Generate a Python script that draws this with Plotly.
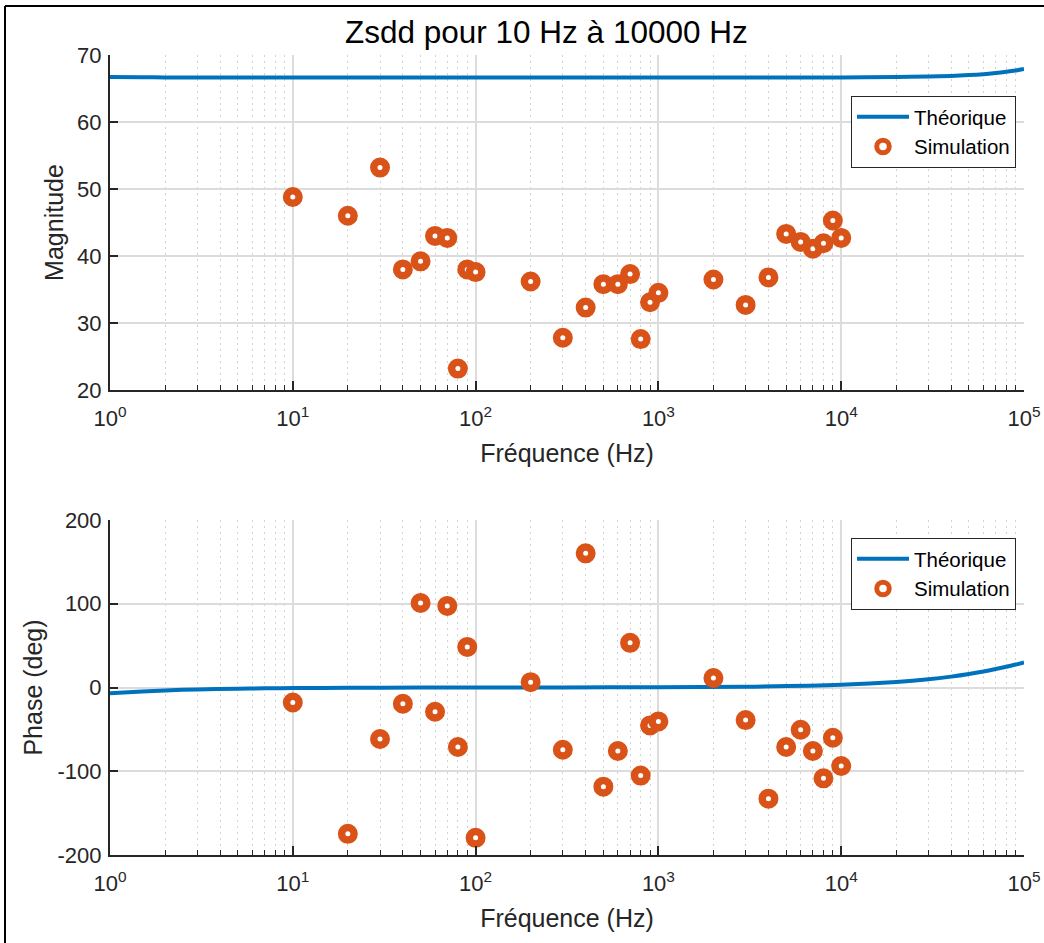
import plotly.graph_objects as go

# ---------------- data ----------------
sim_freq = [10, 20, 30, 40, 50, 60, 70, 80, 90, 100,
            200, 300, 400, 500, 600, 700, 800, 900, 1000,
            2000, 3000, 4000, 5000, 6000, 7000, 8000, 9000, 10000]
sim_mag = [48.8, 46.0, 53.2, 38.0, 39.2, 43.0, 42.7, 23.2, 38.0, 37.6,
           36.2, 27.8, 32.3, 35.8, 35.8, 37.3, 27.6, 33.1, 34.5,
           36.5, 32.7, 36.8, 43.3, 42.1, 41.1, 41.9, 45.3, 42.7]
sim_phase = [-17.9, -174.7, -61.5, -19.4, 100.9, -29.0, 97.4, -71.0, 48.5, -179.5,
             6.4, -74.3, 160.2, -118.4, -75.8, 53.3, -105.2, -45.3, -40.5,
             11.2, -38.9, -132.7, -71.0, -50.4, -75.8, -108.5, -60.0, -93.7]

theo_freq = [1, 1.5, 2, 3, 5, 7, 10, 20, 50, 100, 300, 1000, 3000, 10000,
             20000, 30000, 40000, 50000, 60000, 70000, 80000, 90000, 100000]
theo_mag = [66.72, 66.68, 66.66, 66.65, 66.65, 66.65, 66.65, 66.65, 66.65, 66.65,
            66.65, 66.65, 66.65, 66.66, 66.71, 66.78, 66.88, 67.0, 67.14,
            67.31, 67.49, 67.68, 67.9]
theo_phase = [-7.0, -4.7, -3.5, -2.3, -1.4, -1.0, -0.7, -0.35, -0.1, 0.0, 0.1,
              0.3, 1.0, 3.3, 6.6, 9.8, 13.0, 16.1, 19.1, 22.0, 24.7, 27.4, 30.0]

x_tickvals = [1, 10, 100, 1000, 10000, 100000]
x_ticktext = ["10<sup>0</sup>", "10<sup>1</sup>", "10<sup>2</sup>",
              "10<sup>3</sup>", "10<sup>4</sup>", "10<sup>5</sup>"]
mag_ticks = [20, 30, 40, 50, 60, 70]
mag_ticktext = ["20", "30", "40", "50", "60", "70"]
phase_ticks = [-200, -100, 0, 100, 200]
phase_ticktext = ["-200", "-100", "0", "100", "200"]

title_text = "Zsdd pour 10 Hz à 10000 Hz"
x_label = "Fréquence (Hz)"
mag_label = "Magnitude"
phase_label = "Phase (deg)"
name_theo = "Théorique"
name_sim = "Simulation"

# ---------------- style ----------------
W, H = 1044, 943
ML, MR, MT, MB = 110, 20, 55, 88
PW, PH = W - ML - MR, H - MT - MB
FONT = "Liberation Sans, Arial, sans-serif"
BLUE = "#0072BD"
ORANGE = "#D95319"
AX = "#262626"
GRID = "#dcdcdc"
MINOR_GRID = "#d2d2d2"


def px_x(p):
    return (p - ML) / PW


def px_y(p):
    return (H - MB - p) / PH


minor_vals = [k * 10 ** d for d in range(0, 5) for k in range(2, 10)]

fig = go.Figure()

fig.add_trace(go.Scatter(x=theo_freq, y=theo_mag, mode="lines", name=name_theo,
                         line=dict(color=BLUE, width=4, shape="spline", smoothing=0.8),
                         xaxis="x", yaxis="y", legend="legend"))
fig.add_trace(go.Scatter(x=sim_freq, y=sim_mag, mode="markers", name=name_sim,
                         marker=dict(symbol="circle", size=12.5, color="white",
                                     line=dict(color=ORANGE, width=7.5)),
                         xaxis="x", yaxis="y", legend="legend"))
fig.add_trace(go.Scatter(x=theo_freq, y=theo_phase, mode="lines", name=name_theo,
                         line=dict(color=BLUE, width=4, shape="spline", smoothing=0.8),
                         xaxis="x2", yaxis="y2", legend="legend2"))
fig.add_trace(go.Scatter(x=sim_freq, y=sim_phase, mode="markers", name=name_sim,
                         marker=dict(symbol="circle", size=12.5, color="white",
                                     line=dict(color=ORANGE, width=7.5)),
                         xaxis="x2", yaxis="y2", legend="legend2"))

top_dom = [px_y(390), px_y(55)]
bot_dom = [px_y(855), px_y(520)]


def xaxis_cfg(anchor):
    return dict(
        type="log", range=[0, 5], anchor=anchor,
        tickmode="array", tickvals=x_tickvals, ticktext=x_ticktext,
        ticks="inside", ticklen=9, tickwidth=1.5, tickcolor=AX,
        ticklabelstandoff=8,
        showline=True, linecolor=AX, linewidth=2,
        showgrid=True, gridcolor=GRID, gridwidth=1.5,
        tickfont=dict(family=FONT, size=22, color=AX),
        title=dict(text=x_label, font=dict(family=FONT, size=25, color=AX), standoff=14),
        minor=dict(tickmode="array", tickvals=minor_vals, ticks="inside", ticklen=5,
                   tickwidth=1, tickcolor=AX, showgrid=True, gridcolor=MINOR_GRID,
                   gridwidth=1, griddash="2px,4px"),
        zeroline=False, automargin=False,
    )


def yaxis_cfg(anchor, domain, rng, ticks, ticktext, label, standoff):
    return dict(
        domain=domain, range=rng, anchor=anchor,
        tickmode="array", tickvals=ticks, ticktext=ticktext,
        ticks="inside", ticklen=8, tickwidth=1.5, tickcolor=AX,
        ticklabelstandoff=2,
        showline=True, linecolor=AX, linewidth=2,
        showgrid=True, gridcolor=GRID, gridwidth=1.5,
        tickfont=dict(family=FONT, size=22, color=AX),
        title=dict(text=label, font=dict(family=FONT, size=25, color=AX), standoff=standoff),
        zeroline=False, automargin=False,
    )


legend_common = dict(
    font=dict(family=FONT, size=20.5, color="black"),
    bgcolor="white", bordercolor=AX, borderwidth=1,
    xanchor="right", yanchor="top", itemsizing="trace", itemwidth=52,
)

fig.update_layout(
    width=W, height=H,
    margin=dict(l=ML, r=MR, t=MT, b=MB),
    paper_bgcolor="white", plot_bgcolor="white",
    showlegend=True,
    xaxis=xaxis_cfg("y"),
    yaxis=yaxis_cfg("x", top_dom, [20, 70], mag_ticks, mag_ticktext, mag_label, 6),
    xaxis2=xaxis_cfg("y2"),
    yaxis2=yaxis_cfg("x2", bot_dom, [-200, 200], phase_ticks, phase_ticktext, phase_label, 8),
    legend=dict(x=px_x(1016), y=px_y(96), **legend_common),
    legend2=dict(x=px_x(1016), y=px_y(538), **legend_common),
    annotations=[dict(text=title_text, x=px_x(546), y=px_y(32), xref="paper", yref="paper",
                      xanchor="center", yanchor="middle", showarrow=False,
                      font=dict(family=FONT, size=31.5, color="black"))],
    shapes=[
        dict(type="line", xref="paper", yref="paper", x0=px_x(5), x1=px_x(5),
             y0=px_y(6), y1=px_y(950), line=dict(color="black", width=2)),
        dict(type="line", xref="paper", yref="paper", x0=px_x(5), x1=px_x(1050),
             y0=px_y(6), y1=px_y(6), line=dict(color="black", width=2)),
    ],
)

fig.write_html("out.html", config={"displayModeBar": False},
               post_script="document.body.style.margin='0px';")
